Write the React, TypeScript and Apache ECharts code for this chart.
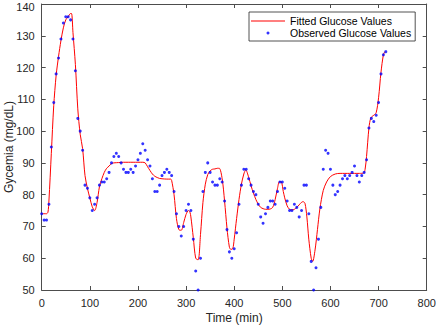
import React, { useEffect, useRef } from "react";
import * as echarts from "echarts";

const obsTimes = [
  0, 5, 10, 15, 20, 25, 30, 35, 40, 45,
  50, 55, 60, 65, 70, 75, 80, 85, 90, 95,
  100, 105, 110, 115, 120, 125, 130, 135, 140, 145,
  150, 155, 160, 165, 170, 175, 180, 185, 190, 195,
  200, 205, 210, 215, 220, 225, 230, 235, 240, 245,
  250, 255, 260, 265, 270, 275, 280, 285, 290, 295,
  300, 305, 310, 315, 320, 325, 330, 335, 340, 345,
  350, 355, 360, 365, 370, 375, 380, 385, 390, 395,
  400, 405, 410, 415, 420, 425, 430, 435, 440, 445,
  450, 455, 460, 465, 470, 475, 480, 485, 490, 495,
  500, 505, 510, 515, 520, 525, 530, 535, 540, 545,
  550, 555, 560, 565, 570, 575, 580, 585, 590, 595,
  600, 605, 610, 615, 620, 625, 630, 635, 640, 645,
  650, 655, 660, 665, 670, 675, 680, 685, 690, 695,
  700, 705, 710, 715,
];

const obsValues = [
  74, 72, 72, 77, 95, 109, 118, 123, 129, 134,
  136, 136, 135, 129, 119, 104, 100, 94, 83, 82,
  79, 75, 77, 79, 83, 84, 84, 85, 87, 90,
  92, 93, 92, 90, 88, 87, 87, 88, 87, 89,
  91, 93, 96, 94, 91, 89, 85, 81, 81, 83,
  86, 87, 88, 87, 86, 81, 74, 70, 67, 70,
  75, 77, 75, 66, 56, 50, 60, 81, 87, 90,
  87, 84, 83, 83, 85, 84, 78, 69, 62, 60,
  63, 68, 77, 83, 88, 88, 85, 83, 81, 80,
  77, 73, 71, 74, 76, 78, 78, 77, 81, 84,
  84, 82, 78, 75, 75, 77, 76, 73, 75, 83,
  83, 74, 59, 50, 57, 66, 76, 88, 94, 93,
  88, 83, 80, 81, 83, 85, 86, 85, 86, 87,
  89, 86, 84, 86, 87, 91, 101, 104, 103, 105,
  109, 118, 124, 125,
];

const fitTimes = [
  0, 5, 10, 13, 15, 20, 25, 30, 35, 40,
  45, 50, 55, 60, 62, 65, 70, 75, 80, 85,
  90, 95, 100, 105, 110, 115, 120, 125, 130, 135,
  140, 145, 150, 160, 170, 180, 190, 200, 210, 215,
  220, 225, 230, 235, 240, 245, 250, 260, 268, 270,
  275, 280, 285, 290, 295, 300, 305, 308, 310, 315,
  320, 325, 330, 335, 340, 345, 350, 355, 360, 365,
  369, 375, 380, 385, 390, 393, 397, 400, 405, 410,
  415, 420, 424, 430, 435, 440, 445, 450, 455, 460,
  465, 470, 475, 480, 485, 490, 494, 498, 502, 505,
  510, 515, 520, 525, 530, 535, 540, 543, 547, 551,
  555, 560, 563, 568, 573, 578, 585, 592, 600, 610,
  620, 630, 640, 650, 660, 669, 672, 675, 680, 684,
  690, 695, 700, 705, 710, 713,
];

const fitValues = [
  74, 74, 74, 74.5, 78, 93, 108, 117.5, 123.5, 128.5,
  132.5, 135, 136, 137, 137, 131, 121, 107, 99, 94.5,
  86, 82, 79, 76.2, 75, 77.5, 82.5, 85, 87, 88.3,
  89, 89.8, 90, 90.1, 90.2, 90.2, 90.2, 90.2, 90.2, 90,
  88.8, 87.6, 86.5, 85.8, 85.4, 85.1, 85, 84.9, 84.9, 84.5,
  80, 72.5, 69, 68.8, 71.2, 73.8, 75, 74.5, 73, 66.5,
  60, 59.5, 67.5, 77.5, 83.3, 86.3, 87.5, 88, 88.1, 88.3,
  88.3, 85, 78, 69.5, 63.5, 62.8, 63, 66, 72.5, 78.5,
  83.3, 86.5, 87.8, 85.5, 82.8, 80.5, 78.5, 77, 76, 75.6,
  75.4, 75.4, 75.5, 76, 78.4, 82, 84.1, 84, 81, 79,
  76.5, 75.4, 75.2, 75.4, 76, 76.8, 77.6, 77.8, 77.3, 73,
  66, 60, 59, 62.6, 69, 75.5, 81.3, 84, 85.7, 86.5,
  86.7, 86.7, 86.7, 86.7, 86.7, 86.8, 88, 92, 101, 104.2,
  105, 105.8, 110.5, 118.5, 124, 125,
];

const Y_MAX = 140;

const FONT = "'Liberation Sans', Arial, Helvetica, sans-serif";
const AXIS_COLOR = "#4d4d4d";
const TEXT_COLOR = "#262626";

export default function App() {
  const ref = useRef<HTMLDivElement>(null);

  useEffect(() => {
    if (!ref.current) return;
    const chart = echarts.init(ref.current, null, { renderer: "svg" });

    const axisLine = { show: true, onZero: false, lineStyle: { color: AXIS_COLOR, width: 1 } };
    const axisTick = { show: true, inside: true, length: 4, lineStyle: { color: AXIS_COLOR, width: 1 } };

    const option = {
      animation: false,
      backgroundColor: "#ffffff",
      textStyle: { fontFamily: FONT },
      grid: {
        left: 41.7,
        right: 9.3,
        top: 4,
        bottom: 37,
        containLabel: false,
        outerBoundsMode: "none",
      },
      legend: {
        orient: "vertical",
        left: 249,
        top: 12,
        itemWidth: 34,
        itemHeight: 3,
        itemGap: 0,
        padding: [3, 4, 2, 2],
        borderColor: TEXT_COLOR,
        borderWidth: 0.8,
        borderRadius: 0,
        backgroundColor: "#ffffff",
        textStyle: { fontSize: 10.5, color: "#000000", fontFamily: FONT, lineHeight: 12 },
        data: [
          {
            name: "Fitted Glucose Values",
            icon: "path://M0,0H34V1H0Z",
            itemStyle: { color: "#ff0000" },
          },
          { name: "Observed Glucose Values", icon: "circle", itemStyle: { color: "#0000ff" } },
        ],
      },
      xAxis: [
        {
          type: "value",
          position: "bottom",
          min: 0,
          max: 800,
          interval: 100,
          name: "Time (min)",
          nameLocation: "middle",
          nameGap: 22,
          nameMoveOverlap: false,
          nameTextStyle: { fontSize: 12, color: TEXT_COLOR, fontFamily: FONT },
          axisLine,
          axisTick,
          axisLabel: { fontSize: 11, color: TEXT_COLOR, margin: 7, fontFamily: FONT },
          splitLine: { show: false },
        },
        {
          type: "value",
          position: "top",
          min: 0,
          max: 800,
          interval: 100,
          axisLine,
          axisTick,
          axisLabel: { show: false },
          splitLine: { show: false },
        },
      ],
      yAxis: [
        {
          type: "value",
          position: "left",
          min: 50,
          max: Y_MAX,
          interval: 10,
          name: "Gycemia (mg/dL)",
          nameLocation: "middle",
          nameGap: 27,
          nameMoveOverlap: false,
          nameTextStyle: { fontSize: 12, color: TEXT_COLOR, fontFamily: FONT },
          axisLine,
          axisTick,
          axisLabel: {
            fontSize: 11,
            lineHeight: 8,
            color: TEXT_COLOR,
            margin: 7,
            fontFamily: FONT,
            formatter: (v: number) => (v === Y_MAX ? `{top|${v}}` : `${v}`),
            rich: {
              top: {
                fontSize: 11,
                lineHeight: 8,
                color: TEXT_COLOR,
                fontFamily: FONT,
                padding: [5, 0, 0, 0],
              },
            },
          },
          splitLine: { show: false },
        },
        {
          type: "value",
          position: "right",
          min: 50,
          max: Y_MAX,
          interval: 10,
          axisLine,
          axisTick,
          axisLabel: { show: false },
          splitLine: { show: false },
        },
      ],
      series: [
        {
          name: "Fitted Glucose Values",
          type: "line",
          xAxisIndex: 0,
          yAxisIndex: 0,
          data: fitTimes.map((t, i) => [t, fitValues[i]]),
          symbol: "none",
          showSymbol: false,
          smooth: 0.3,
          lineStyle: { color: "#ff0000", width: 1 },
          itemStyle: { color: "#ff0000" },
          z: 2,
        },
        {
          name: "Observed Glucose Values",
          type: "scatter",
          xAxisIndex: 0,
          yAxisIndex: 0,
          data: obsTimes.map((t, i) => [t, obsValues[i]]),
          symbol: "circle",
          symbolSize: 3,
          itemStyle: { color: "#0000ff" },
          z: 3,
        },
      ],
    };

    chart.setOption(option as any);
    return () => {
      chart.dispose();
    };
  }, []);

  return (
    <div
      ref={ref}
      style={{ position: "absolute", left: 0, top: 0, width: 436, height: 327, background: "#fff" }}
    />
  );
}
